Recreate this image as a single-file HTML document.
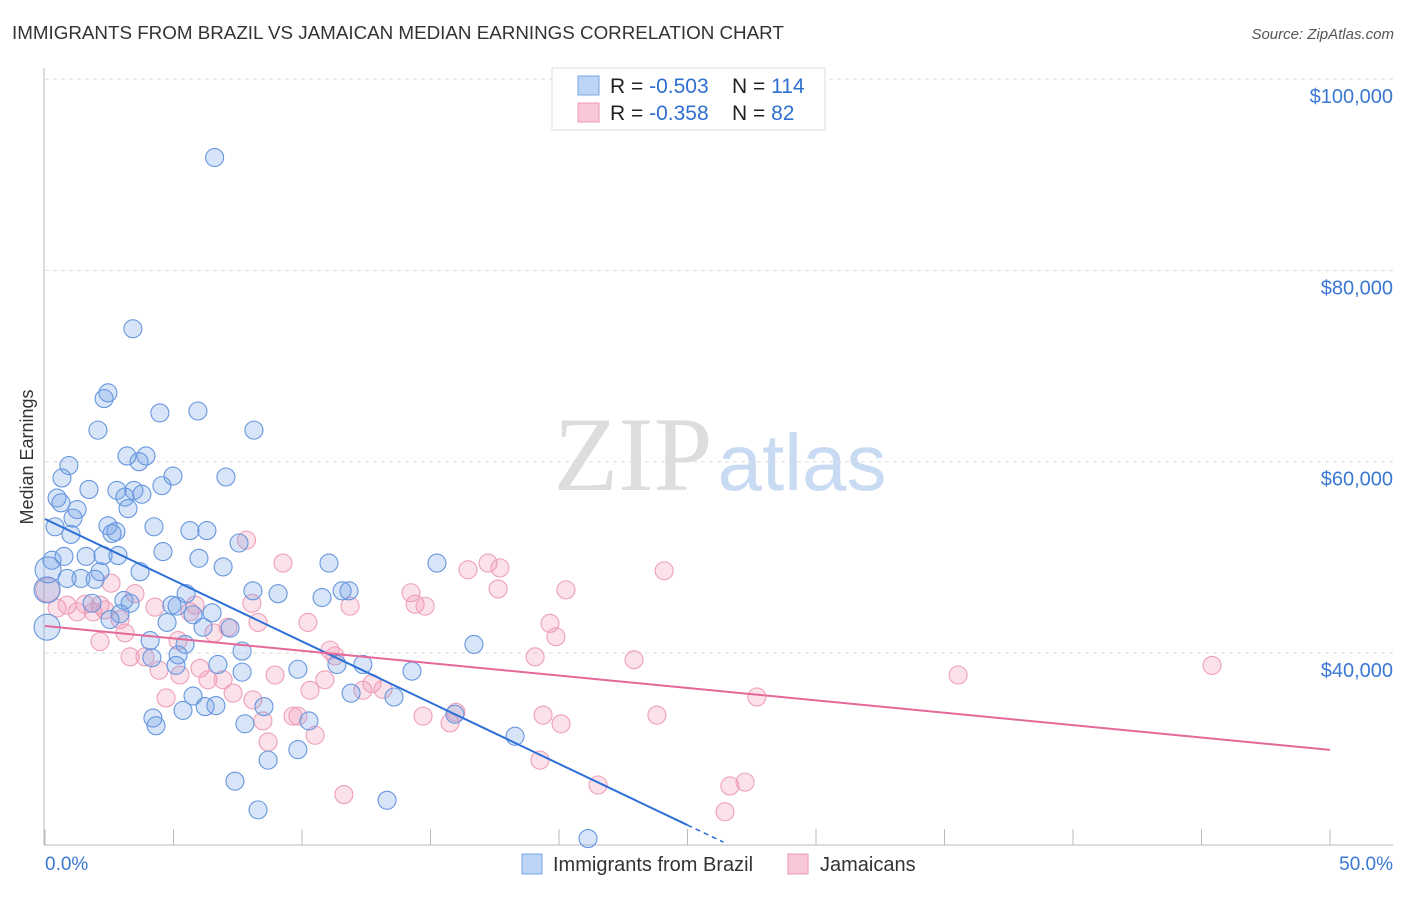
<!DOCTYPE html>
<html><head><meta charset="utf-8"><style>
body{margin:0;background:#fff;font-family:"Liberation Sans",sans-serif;}
svg text{font-family:"Liberation Sans",sans-serif;}
</style></head><body>
<svg id="chart" width="1406" height="892" viewBox="0 0 1406 892" xmlns="http://www.w3.org/2000/svg">
<text x="12" y="39" font-size="18.8" fill="#333">IMMIGRANTS FROM BRAZIL VS JAMAICAN MEDIAN EARNINGS CORRELATION CHART</text>
<text x="1394" y="39" font-size="15" fill="#555" text-anchor="end" font-style="italic">Source: ZipAtlas.com</text>
<text transform="translate(33,457) rotate(-90)" font-size="18" fill="#333" text-anchor="middle">Median Earnings</text>
<g>
<text x="633" y="490" font-size="106" fill="#ddd" text-anchor="middle" style="font-family:'Liberation Serif',serif">ZIP</text>
<text x="802" y="490" font-size="80" fill="#c9dbf2" text-anchor="middle">atlas</text>
</g>
<g id="grid"></g><g id="pts"></g><g id="lines"></g>
<g>
<rect x="552" y="68" width="273" height="62" fill="#fff" stroke="#ddd"/>
<rect x="578" y="76" width="21" height="19" fill="#bcd4f5" stroke="#7aa6e4"/>
<rect x="578" y="103" width="21" height="19" fill="#f8c8d6" stroke="#ec9ab4"/>
<text x="610" y="93" font-size="21" fill="#222">R = <tspan fill="#2f6fd0">-0.503</tspan></text>
<text x="732" y="93" font-size="21" fill="#222">N = <tspan fill="#2f6fd0">114</tspan></text>
<text x="610" y="120" font-size="21" fill="#222">R = <tspan fill="#2f6fd0"> -0.358</tspan></text>
<text x="732" y="120" font-size="21" fill="#222">N = <tspan fill="#2f6fd0"> 82</tspan></text>
</g>
<g>
<rect x="522" y="854" width="20" height="20" fill="#bcd4f5" stroke="#7aa6e4"/>
<text x="553" y="871" font-size="20" fill="#333">Immigrants from Brazil</text>
<rect x="788" y="854" width="20" height="20" fill="#f8c8d6" stroke="#ec9ab4"/>
<text x="820" y="871" font-size="20" fill="#333">Jamaicans</text>
</g>
<text x="45" y="870" font-size="19" fill="#3a78d4">0.0%</text>
<text x="1393" y="870" font-size="19" fill="#3a78d4" text-anchor="end">50.0%</text>
</svg>
<script>
const yTicks=[100000,80000,60000,40000];
const yTickLabels=["$100,000","$80,000","$60,000","$40,000"];
const xTicks=[0,5,10,15,20,25,30,35,40,45,50];
const brazilX=[6.6,3.42,2.45,2.3,5.95,4.47,8.13,2.06,3.19,3.93,3.66,0.93,7.04,4.98,0.66,4.55,1.71,0.47,2.8,3.46,3.11,0.62,3.77,1.25,1.09,3.23,0.39,2.45,4.24,5.64,6.3,2.76,2.61,1.01,7.55,0.27,0.74,1.6,2.26,2.84,4.59,5.99,11.05,15.25,6.93,0.12,3.7,2.14,1.4,0.86,1.95,8.09,9.07,10.78,11.56,11.83,5.49,3.07,3.31,1.83,4.94,5.14,6.5,5.76,2.92,2.53,4.75,7.2,6.15,4.09,5.45,16.69,7.67,5.18,4.16,9.84,11.36,12.37,6.73,5.1,14.28,7.67,11.91,13.58,5.76,5.37,6.65,6.23,8.52,4.2,4.32,10.27,7.78,15.95,18.29,9.84,8.68,7.39,13.31,8.29,21.13,0.08,0.08];
const brazilY=[91.8,73.9,67.2,66.6,65.3,65.1,63.3,63.3,60.6,60.6,60.0,59.6,58.4,58.5,58.3,57.5,57.1,56.2,57.0,57.0,56.3,55.7,56.6,55.0,54.1,55.1,53.2,53.3,53.2,52.8,52.8,52.7,52.5,52.4,51.5,49.7,50.1,50.1,50.2,50.2,50.6,49.9,49.4,49.4,49.0,48.7,48.5,48.5,47.8,47.8,47.7,46.5,46.2,45.8,46.5,46.5,46.2,45.5,45.2,45.2,45.0,44.9,44.2,44.0,44.1,43.5,43.2,42.6,42.7,41.3,40.9,40.9,40.2,39.8,39.5,38.3,38.8,38.8,38.8,38.7,38.1,38.0,35.8,35.4,35.5,34.0,34.5,34.4,34.4,33.2,32.4,32.9,32.6,33.6,31.3,29.9,28.8,26.6,24.6,23.6,20.6,42.7,46.6];
const jamX=[0.1,0.47,0.86,1.25,1.56,1.87,2.14,2.57,2.33,2.92,3.11,2.14,3.5,4.28,3.31,3.89,4.44,4.71,5.18,5.25,5.64,5.84,6.03,6.34,6.57,6.93,7.12,7.84,7.32,8.05,8.09,8.29,8.48,8.68,8.95,9.26,9.65,9.84,10.23,10.31,10.51,10.89,11.09,11.28,11.63,11.87,12.37,12.72,13.15,14.24,14.4,14.79,14.71,15.76,15.99,16.46,17.24,17.63,17.7,19.07,19.26,19.38,19.65,19.88,20.08,20.27,21.52,22.92,23.81,24.09,26.46,26.65,27.24,27.7,35.53,45.41];
const jamY=[46.6,44.7,45.0,44.3,45.1,44.3,45.0,47.3,44.5,43.5,42.1,41.2,46.2,44.8,39.6,39.6,38.2,35.3,41.3,37.7,44.3,45.0,38.4,37.2,42.1,37.2,42.7,51.8,35.8,45.2,35.1,43.2,32.9,30.7,37.7,49.4,33.4,33.4,43.2,36.1,31.4,37.2,40.3,39.7,25.2,44.9,36.1,36.8,36.2,46.3,45.1,44.9,33.4,32.7,33.8,48.7,49.4,46.7,48.9,39.6,28.8,33.5,43.1,41.7,32.6,46.6,26.2,39.3,33.5,48.6,23.4,26.1,26.5,35.4,37.7,38.7];
const brazilTrend=[54.01,-1.28];
const jamTrend=[42.82,-0.259];
const NS="http://www.w3.org/2000/svg";
const X=p=>45+p*25.7;
const Y=v=>653-(v-40000)*191.3/20000;
const Yk=k=>Y(k*1000);
function mk(t,a,parent){const e=document.createElementNS(NS,t);for(const k in a)e.setAttribute(k,a[k]);parent.appendChild(e);return e;}
const grid=document.getElementById('grid');
yTicks.forEach((v,i)=>{
 const l=mk('line',{x1:45,x2:1393,y1:Y(v),y2:Y(v),stroke:'#ddd','stroke-dasharray':'4,4'},grid);
 
 
 const t=mk('text',{x:1393,y:Y(v)+24,'font-size':20,fill:'#3a78d4','text-anchor':'end'},grid);
 t.textContent=yTickLabels[i];
 
 
});
const ax=mk('line',{x1:44,x2:44,y1:68,y2:845,stroke:'#bbb'},grid);


const bx=mk('line',{x1:44,x2:1393,y1:845,y2:845,stroke:'#bbb'},grid);


xTicks.forEach(p=>{
 const t=mk('line',{x1:X(p),x2:X(p),y1:829,y2:845,stroke:'#bbb'},grid);
 
 
});
const pts=document.getElementById('pts');
jamX.forEach((x,i)=>{
 const big=x<0.2;
 const c=mk('circle',{cx:X(x),cy:Yk(jamY[i]),r:big?12:9,fill:'rgba(240,140,170,0.25)',stroke:'#ee9fb8','stroke-width':1.1},pts);
 
 
});
brazilX.forEach((x,i)=>{
 const big=x<0.2;
 const c=mk('circle',{cx:X(x),cy:Yk(brazilY[i]),r:big?13:9,fill:'rgba(110,160,230,0.27)',stroke:'#6696de','stroke-width':1.1},pts);
 
 
});
const lines=document.getElementById('lines');
const b1=mk('line',{x1:X(0),y1:Yk(brazilTrend[0]),x2:X(25),y2:Yk(brazilTrend[0]+25*brazilTrend[1]),stroke:'#2c6fd6','stroke-width':2},lines);


const b2=mk('line',{x1:X(25),y1:Yk(brazilTrend[0]+25*brazilTrend[1]),x2:X(26.4),y2:Yk(brazilTrend[0]+26.4*brazilTrend[1]),stroke:'#2c6fd6','stroke-width':1.5,'stroke-dasharray':'5,4'},lines);


const j1=mk('line',{x1:X(0),y1:Yk(jamTrend[0]),x2:X(50),y2:Yk(jamTrend[0]+50*jamTrend[1]),stroke:'#e5689a','stroke-width':2},lines);


</script>
</body></html>
